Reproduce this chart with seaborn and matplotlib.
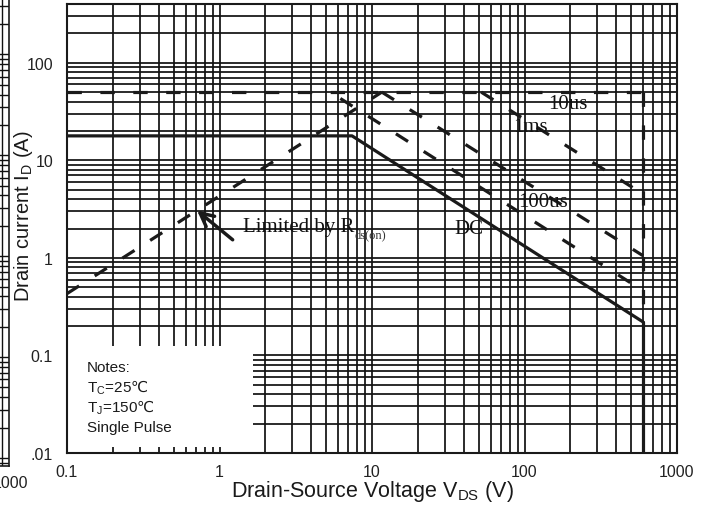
import numpy as np
import pandas as pd
import seaborn as sns
import matplotlib.pyplot as plt
from matplotlib.patches import Rectangle
from matplotlib.ticker import LogLocator, NullFormatter, FixedLocator

sns.set_theme(style='white')
plt.rcParams['font.family'] = ['Liberation Sans', 'DejaVu Sans']
plt.rcParams['mathtext.fontset'] = 'custom'
plt.rcParams['mathtext.rm'] = 'Liberation Sans'
plt.rcParams['mathtext.sf'] = 'DejaVu Sans'

# SOA curves, V in volts, I in amps
rds_v = [0.1, 11.6]
rds_i = [0.43, 50]
pulse_v = [0.1, 600]
pulse_i = [50, 50]
ms1_v = [52, 600]
ms1_i = [50, 4.5]
us100_v = [11.6, 600]
us100_i = [50, 1.05]
low_v = [6.2, 600]
low_i = [43, 0.46]
dc_v = [0.1, 7.4, 600]
dc_i = [17.8, 17.8, 0.22]
bv_v = [600, 600]
bv_dash_i = [50, 0.22]
bv_solid_i = [0.22, 0.01]

x_ticks = [0.1, 1, 10, 100, 1000]
x_labels = ['0.1', '1', '10', '100', '1000']
y_ticks = [0.01, 0.1, 1, 10, 100]
y_labels = ['.01', '0.1', '1', '10', '100']

curve_labels = ['10us', '1ms', '100us', 'DC']
curve_label_v = [193, 110, 132, 43.3]
curve_label_i = [38, 22.1, 3.77, 1.99]

notes = ['Notes:', 'T$_\\mathrm{C}$=25$\\mathsf{℃}$', 'T$_\\mathrm{J}$=150$\\mathsf{℃}$', 'Single Pulse']

fig = plt.figure(figsize=(7.13, 5.06), dpi=100)
ax = fig.add_axes([67/713, 1-454/506, 610/713, 449/506])
ax.set_xscale('log')
ax.set_yscale('log')
ax.set_xlim(0.1, 1000)
ax.set_ylim(0.01, 400)

dash = (0, (4.5, 5.8))
lw = 2.3
for v, i, ls in [(pulse_v, pulse_i, dash), (rds_v, rds_i, dash), (ms1_v, ms1_i, dash),
                 (us100_v, us100_i, dash), (low_v, low_i, dash), (dc_v, dc_i, '-'),
                 (bv_v, bv_dash_i, dash), (bv_v, bv_solid_i, '-')]:
    sns.lineplot(x=v, y=i, ax=ax, color='k', lw=lw, linestyle=ls,
                 estimator=None, sort=False, zorder=3)

ax.xaxis.set_major_locator(FixedLocator(x_ticks))
ax.yaxis.set_major_locator(FixedLocator(y_ticks))
ax.set_xticklabels(x_labels)
ax.set_yticklabels(y_labels)
ax.xaxis.set_minor_locator(LogLocator(base=10, subs=np.arange(2, 10)))
ax.yaxis.set_minor_locator(LogLocator(base=10, subs=np.arange(2, 10)))
ax.xaxis.set_minor_formatter(NullFormatter())
ax.yaxis.set_minor_formatter(NullFormatter())
ax.grid(True, which='both', color='#111111', lw=1.25)
ax.tick_params(which='both', length=0, labelsize=11.5, labelcolor='#222222')
ax.tick_params(axis='x', pad=8)
ax.tick_params(axis='y', pad=10)
for s in ax.spines.values():
    s.set_color('k')
    s.set_linewidth(1.5)

# white notes box over the grid
ax.add_patch(Rectangle((0.002, 0.0134), 0.303, 0.225, transform=ax.transAxes,
                       facecolor='white', edgecolor='none', zorder=1))
for k, t in enumerate(notes):
    ax.text(0.033, 0.1915 - k*0.0445, t, transform=ax.transAxes, fontsize=11,
            va='center', ha='left', color='k', zorder=4)

for t, v, i in zip(curve_labels, curve_label_v, curve_label_i):
    ax.text(v, i, t, fontsize=15, family='Liberation Serif', ha='center',
            va='center', color='#111111', zorder=4)

lt = ax.text(1.43, 2.09, 'Limited by R', fontsize=15, family='Liberation Serif',
             ha='left', va='center', color='#111111', zorder=4)
ax.annotate('ds(on)', xy=(1, 0.12), xycoords=lt, fontsize=9, family='Liberation Serif',
            ha='left', va='center', color='#333333')
ax.annotate('', xy=(0.69, 3.19), xytext=(1.26, 1.47),
            arrowprops=dict(arrowstyle='->, head_length=0.8, head_width=0.4',
                            lw=2.5, color='k'), zorder=4)

ax.set_xlabel('Drain-Source Voltage V$_\\mathrm{DS}$ (V)', fontsize=15.5, color='k')
ax.xaxis.set_label_coords(0.5, -0.056)
ax.set_ylabel('Drain current I$_\\mathrm{D}$ (A)', fontsize=14.5, color='k')
ax.yaxis.set_label_coords(-0.053, 0.53)

# sliver of the neighbouring chart at the left edge
ax0 = fig.add_axes([-21/713, 39/506, 30/713, 467/506])
ax0.set_yscale('log')
ax0.set_ylim(10**-0.08, 10**4.55)
ax0.set_xlim(0, 1)
ax0.yaxis.set_minor_locator(LogLocator(base=10, subs=np.arange(2, 10)))
ax0.xaxis.set_major_locator(FixedLocator([0.75]))
ax0.grid(True, which='both', color='#111111', lw=1.0)
ax0.tick_params(which='both', length=0, labelleft=False, labelbottom=False)
for s in ax0.spines.values():
    s.set_color('k')
    s.set_linewidth(1.2)
fig.text(28/713, 1-484/506, '1000', fontsize=11.5, ha='right', va='center', color='#222222')

fig.savefig('out.png', dpi=100)
